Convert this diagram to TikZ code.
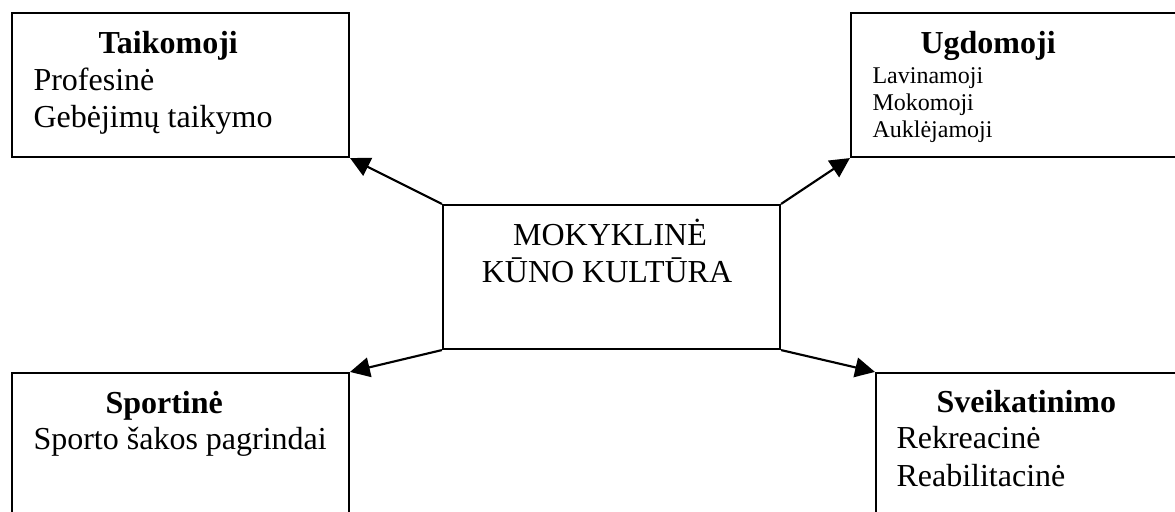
\documentclass[tikz,border=0pt]{standalone}
\usepackage{fontspec}
\setmainfont{Liberation Serif}
\usetikzlibrary{arrows.meta,fit}
\begin{document}
\begin{tikzpicture}[x=0.375pt,y=-0.375pt,
  box/.style={draw=black,line width=0.8pt,inner sep=0pt,rectangle},
  big/.style={inner sep=0pt,anchor=base west,font=\fontsize{12}{14}\selectfont},
  head/.style={big,font=\fontsize{12}{14}\selectfont\bfseries},
  small/.style={inner sep=0pt,anchor=base west,font=\fontsize{9}{11}\selectfont},
  link/.style={line width=0.8pt,-{Triangle[length=7.4pt,width=7.4pt]}}]
\useasboundingbox (0,0) rectangle (1175,511);
\clip (0,0) rectangle (1175,511);
\fill[white] (0,0) rectangle (1175,511);

% frames
\node[box,fit={(443,205)(780,349)}] (c) {};
\node[box,fit={(12,13)(349,157)}] (tl) {};
\node[box,fit={(851,13)(1200,157)}] (tr) {};
\node[box,fit={(12,373)(349,540)}] (bl) {};
\node[box,fit={(876,373)(1200,540)}] (br) {};

% centre
\node[big,anchor=base] (c1) at (610,245) {MOKYKLINĖ};
\node[big,anchor=base] (c2) at (607,282) {KŪNO KULTŪRA};

% top left
\node[head] (tl0) at (98,53) {Taikomoji};
\node[big] (tl1) at (33,90) {Profesinė};
\node[big] (tl2) at (33,127) {Gebėjimų taikymo};

% top right
\node[head] (tr0) at (920,53) {Ugdomoji};
\node[small] (tr1) at (872,83) {Lavinamoji};
\node[small] (tr2) at (872,110) {Mokomoji};
\node[small] (tr3) at (872,137) {Auklėjamoji};

% bottom left
\node[head] (bl0) at (105,413) {Sportinė};
\node[big] (bl1) at (33,449) {Sporto šakos pagrindai};

% bottom right
\node[head] (br0) at (936,412) {Sveikatinimo};
\node[big] (br1) at (896,448) {Rekreacinė};
\node[big] (br2) at (896,486) {Reabilitacinė};

% connectors
\draw[link] (c.north west) -- (tl.south east);
\draw[link] (c.north east) -- (tr.south west);
\draw[link] (c.south west) -- (bl.north east);
\draw[link] (c.south east) -- (br.north west);
\end{tikzpicture}
\end{document}
